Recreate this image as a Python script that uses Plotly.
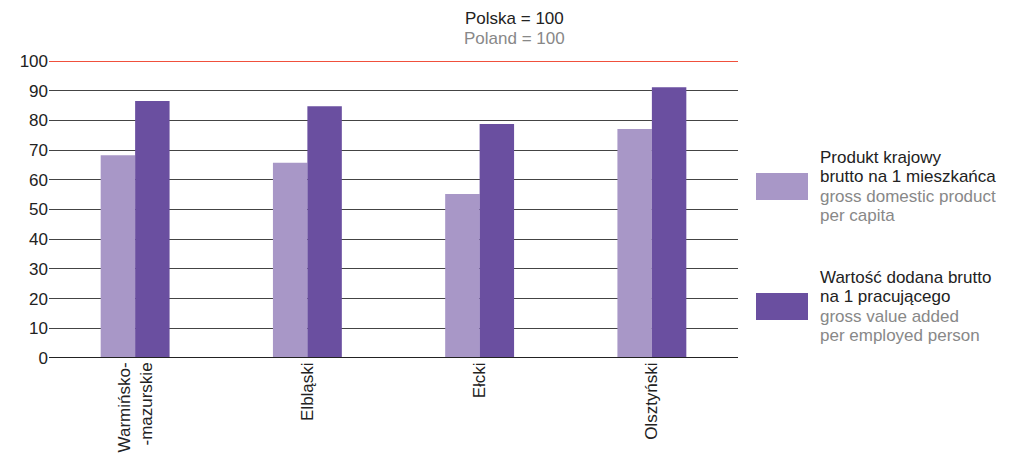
import plotly.graph_objects as go

categories = ["Warmińsko-<br>-mazurskie", "Elbląski", "Ełcki", "Olsztyński"]
gdp_per_capita = [68.3, 65.7, 55.2, 77.1]
gva_per_employed = [86.5, 84.8, 78.8, 91.2]
y_ticks = [0, 10, 20, 30, 40, 50, 60, 70, 80, 90, 100]

series1_pl = ["Produkt krajowy", "brutto na 1 mieszkańca"]
series1_en = ["gross domestic product", "per capita"]
series2_pl = ["Wartość dodana brutto", "na 1 pracującego"]
series2_en = ["gross value added", "per employed person"]

light = "#a897c7"
dark = "#6a4fa0"
font_family = "Liberation Sans, Arial, sans-serif"

fig = go.Figure()
fig.add_trace(go.Bar(x=categories, y=gdp_per_capita, marker=dict(color=light, line=dict(width=0)), name="gdp"))
fig.add_trace(go.Bar(x=categories, y=gva_per_employed, marker=dict(color=dark, line=dict(width=0)), name="gva"))

fig.update_layout(
    width=1016, height=471,
    margin=dict(l=49, r=278, t=61, b=113),
    paper_bgcolor="white", plot_bgcolor="white",
    barmode="group", bargap=0.6, bargroupgap=0,
    showlegend=False,
    font=dict(family=font_family, size=17, color="#222"),
    xaxis=dict(tickangle=-90, showgrid=False, showline=False, ticks="",
               tickfont=dict(size=17, color="#222")),
    yaxis=dict(range=[0, 100], tickvals=y_ticks, showgrid=True, gridcolor="#444",
               gridwidth=1, zeroline=False, showline=False, ticks="",
               tickfont=dict(size=17, color="#222")),
)

# baseline and 100 line
fig.add_shape(type="line", xref="paper", yref="y", x0=0, x1=1, y0=0, y1=0,
              line=dict(color="#222", width=2))
fig.add_shape(type="line", xref="paper", yref="y", x0=0, x1=1, y0=100, y1=100,
              line=dict(color="#f0503c", width=2))

def px_x(px):
    return (px - 49) / 689

def px_y(py):
    return (358 - py) / 297

# title
fig.add_annotation(text="Polska = 100", xref="paper", yref="paper", x=px_x(514), y=px_y(18),
                   showarrow=False, font=dict(size=17, color="#222"), xanchor="center", yanchor="middle")
fig.add_annotation(text="Poland = 100", xref="paper", yref="paper", x=px_x(514), y=px_y(39),
                   showarrow=False, font=dict(size=17, color="#888"), xanchor="center", yanchor="middle")

# legend swatches
fig.add_shape(type="rect", xref="paper", yref="paper", x0=px_x(756), x1=px_x(808), y0=px_y(200), y1=px_y(173),
              fillcolor=light, line=dict(width=0))
fig.add_shape(type="rect", xref="paper", yref="paper", x0=px_x(756), x1=px_x(808), y0=px_y(320), y1=px_y(293),
              fillcolor=dark, line=dict(width=0))

def add_legend_text(lines, colors, y_start):
    for i, (t, c) in enumerate(zip(lines, colors)):
        fig.add_annotation(text=t, xref="paper", yref="paper", x=px_x(818), y=px_y(y_start + 19.5 * i),
                           showarrow=False, xanchor="left", yanchor="middle",
                           font=dict(size=17, color=c))

add_legend_text(series1_pl + series1_en, ["#222", "#222", "#888", "#888"], 157)
add_legend_text(series2_pl + series2_en, ["#222", "#222", "#888", "#888"], 277)

fig.write_html("out.html", config={"displayModeBar": False},
               post_script="document.body.style.margin='0px';")
